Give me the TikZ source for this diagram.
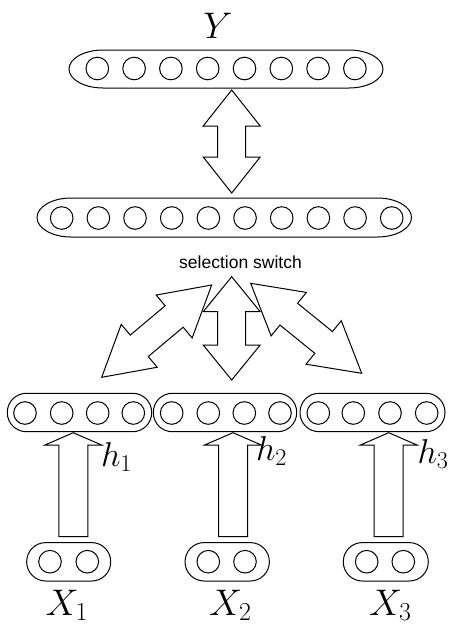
\RequirePackage{fix-cm}
\documentclass[tikz,border=0pt]{standalone}
\usepackage{fontspec}
\newfontfamily\labelfont{Liberation Sans}
\usetikzlibrary{calc}
% double block arrow: #1 tip A, #2 tip B, #3 head length, #4 half head width, #5 half shaft width
\newcommand{\blockdbl}[5]{%
  \draw[blk] (#1) -- ($(#1)!#3!(#2)!#4!90:(#2)$) -- ($(#1)!#3!(#2)!#5!90:(#2)$)
    -- ($(#2)!#3!(#1)!#5!-90:(#1)$) -- ($(#2)!#3!(#1)!#4!-90:(#1)$) -- (#2)
    -- ($(#2)!#3!(#1)!#4!90:(#1)$) -- ($(#2)!#3!(#1)!#5!90:(#1)$)
    -- ($(#1)!#3!(#2)!#5!-90:(#2)$) -- ($(#1)!#3!(#2)!#4!-90:(#2)$) -- cycle;}
% single block arrow: #1 base centre, #2 tip
\newcommand{\blockone}[5]{%
  \draw[blk] ($(#1)!#5!90:(#2)$) -- ($(#2)!#3!(#1)!#5!-90:(#1)$)
    -- ($(#2)!#3!(#1)!#4!-90:(#1)$) -- (#2) -- ($(#2)!#3!(#1)!#4!90:(#1)$)
    -- ($(#2)!#3!(#1)!#5!90:(#1)$) -- ($(#1)!#5!-90:(#2)$) -- cycle;}
\begin{document}
\begin{tikzpicture}[x=1pt,y=1pt,line width=1pt,
  cell/.style={circle,draw,minimum size=22.6pt,inner sep=0pt},
  box/.style={draw,rounded corners=19pt,minimum height=38.4pt,inner sep=0pt},
  blk/.style={draw,line join=miter},
  big/.style={inner sep=0pt,font=\fontsize{37}{40}\selectfont},
  hlab/.style={inner sep=0pt,anchor=base west,font=\fontsize{34.5}{38}\selectfont}]
\useasboundingbox (0,0) rectangle (462,-638);

% output layer Y
\draw (103,-50) -- (349,-50) arc[start angle=90,end angle=-90,x radius=34,y radius=19]
  -- (103,-88) arc[start angle=270,end angle=90,x radius=34,y radius=19] -- cycle;
\foreach \i in {0,...,7} \node[cell] (y\i) at (97.3+36.8*\i,-68.5) {};
\node[big,anchor=base] (ylab) at (218,-38) {$Y$};

% shared layer
\draw (71,-198) -- (377.5,-198) arc[start angle=90,end angle=-90,x radius=34,y radius=19.5]
  -- (71,-237) arc[start angle=270,end angle=90,x radius=34,y radius=19.5] -- cycle;
\foreach \i in {0,...,9} \node[cell] (s\i) at (61.7+36.67*\i,-218) {};

\node[anchor=base,inner sep=0pt,font=\labelfont\fontsize{17.5}{20}\selectfont] (sel) at (240.5,-268) {selection switch};

% hidden layers
\node[box,minimum width=144.4pt] (hb1) at (79.5,-412.5) {};
\node[box,minimum width=143.4pt] (hb2) at (225,-412.5) {};
\node[box,minimum width=145pt] (hb3) at (372.5,-412.5) {};
\foreach \x [count=\k] in {25,61.7,97.7,133.3} \node[cell] (ha\k) at (\x,-413) {};
\foreach \x [count=\k] in {171.7,208.3,244.3,280} \node[cell] (hm\k) at (\x,-413) {};
\foreach \x [count=\k] in {318.3,353.3,390,426.7} \node[cell] (hc\k) at (\x,-413) {};

% inputs
\node[box,minimum width=84pt] (xb1) at (68.7,-561.8) {};
\node[box,minimum width=84.3pt] (xb2) at (227.2,-561.8) {};
\node[box,minimum width=85pt] (xb3) at (385.8,-561.8) {};
\foreach \x [count=\k] in {50,87.3,208.3,245,366.7,403.3} \node[cell] (xc\k) at (\x,-561.7) {};

% block arrows
\coordinate (ta) at (231.7,-90);   \coordinate (tb) at (231.7,-193);
\blockdbl{ta}{tb}{36pt}{28.5pt}{14pt}
\coordinate (ma) at (231.7,-276.7); \coordinate (mb) at (231.7,-380);
\blockdbl{ma}{mb}{35pt}{28.5pt}{14pt}
\coordinate (la) at (211.7,-285); \coordinate (lb) at (101.7,-377.3);
\blockdbl{la}{lb}{49pt}{28pt}{14pt}
\coordinate (ra) at (250.7,-283.3); \coordinate (rb) at (361.7,-373.3);
\blockdbl{ra}{rb}{49pt}{28pt}{14pt}

\coordinate (u1a) at (73.3,-536.7);  \coordinate (u1b) at (73.3,-432.7);
\coordinate (u2a) at (233,-536.7);   \coordinate (u2b) at (233,-432.7);
\coordinate (u3a) at (388.7,-536.7); \coordinate (u3b) at (388.7,-432.7);
\blockone{u1a}{u1b}{12.3pt}{28.3pt}{14.5pt}
\blockone{u2a}{u2b}{12.3pt}{28.3pt}{14.5pt}
\blockone{u3a}{u3b}{12.3pt}{28.3pt}{14.5pt}

% labels
\node[hlab] (h1) at (100.5,-466.5) {$h_1$};
\node[hlab] (h2) at (255.5,-460) {$h_2$};
\node[hlab] (h3) at (417,-463) {$h_3$};
\node[big,anchor=base west] (x1) at (45,-615) {$X_1$};
\node[big,anchor=base west] (x2) at (208.5,-615) {$X_2$};
\node[big,anchor=base west] (x3) at (368.5,-615) {$X_3$};
\end{tikzpicture}
\end{document}
